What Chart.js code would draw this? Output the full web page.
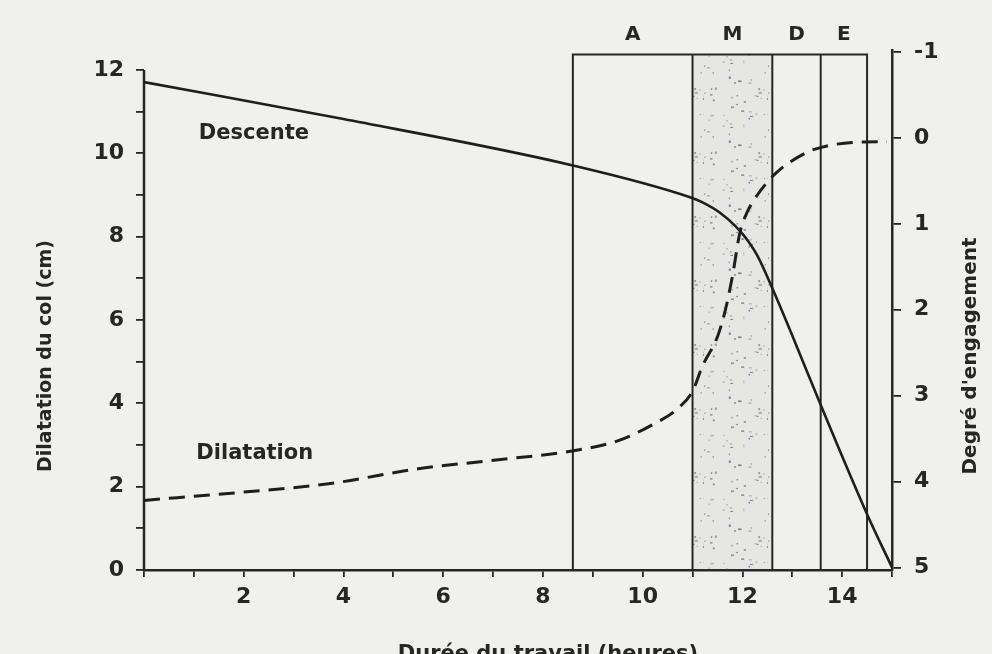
<!DOCTYPE html>
<html><head><meta charset="utf-8">
<script src="https://cdn.jsdelivr.net/npm/chart.js@4/dist/chart.umd.min.js"></script>
<style>html,body{margin:0;padding:0;background:#f0f0ee;}canvas{display:block;}</style>
</head><body>
<canvas id="c" width="992" height="654"></canvas>
<script>
// ---- data ----
const descenteHours   = [0, 4, 8.6, 10.95, 11.2, 11.55, 11.85, 12.05, 12.3, 12.6, 13.0, 13.6, 14.5, 15];
const descenteDegre   = [-0.65, -0.22, 0.32, 0.69, 0.75, 0.87, 1.02, 1.15, 1.37, 1.75, 2.3, 3.15, 4.38, 5.0];
const dilatationHours = [0, 2, 3.7, 5.5, 6.9, 8.7, 9.5, 10.2, 10.7, 11.0, 11.2, 11.5, 11.65, 11.8, 11.95, 12.1, 12.3, 12.65, 13.25, 13.6, 14.2, 14.9];
const dilatationCm    = [1.67, 1.87, 2.07, 2.43, 2.62, 2.88, 3.10, 3.49, 3.87, 4.29, 4.9, 5.6, 6.2, 7.05, 8.1, 8.6, 9.0, 9.5, 10.0, 10.15, 10.26, 10.28];
const phaseLabels  = ['A', 'M', 'D', 'E'];
const phaseBounds  = [8.6, 11.0, 12.6, 13.57, 14.5];
const shadedPhase  = 'M';
const phaseBoxTop  = 12.37;          // top of the phase box, in cm (left axis)
const xLabelled    = [2, 4, 6, 8, 10, 12, 14];
const yLabelled    = [0, 2, 4, 6, 8, 10, 12];
const y2Labelled   = [-1, 0, 1, 2, 3, 4, 5];

const FONT = "'DejaVu Sans', 'Liberation Sans', sans-serif";
const INK = '#262626';

function speckle(ctx) {
  const p = document.createElement('canvas'); p.width = 64; p.height = 64;
  const g = p.getContext('2d');
  g.fillStyle = 'rgba(110,110,110,0.08)'; g.fillRect(0, 0, 64, 64);
  let s = 11;
  const r = () => (s = (s * 16807) % 2147483647) / 2147483647;
  for (let i = 0; i < 45; i++) {
    const x = r() * 64, y = r() * 64, w = 1 + r() * 2.5, h = 1 + r() * 1.2;
    g.fillStyle = `rgba(${60 + (r() * 60 | 0)},${60 + (r() * 40 | 0)},${80 + (r() * 60 | 0)},${0.3 + r() * 0.4})`;
    g.fillRect(x, y, w, h);
  }
  return ctx.createPattern(p, 'repeat');
}

const paper = {
  id: 'paper',
  beforeDraw(chart) {
    const c = chart.ctx; c.save(); c.fillStyle = '#f0f0ee';
    c.fillRect(0, 0, chart.width, chart.height); c.restore();
  }
};

const phases = {
  id: 'phases',
  beforeDatasetsDraw(chart) {
    const { ctx, chartArea, scales: { x, y } } = chart;
    const top = y.getPixelForValue(phaseBoxTop), bottom = y.getPixelForValue(0);
    const xs = phaseBounds.map(v => x.getPixelForValue(v));
    ctx.save();
    const mi = phaseLabels.indexOf(shadedPhase);
    ctx.fillStyle = speckle(ctx);
    ctx.fillRect(xs[mi], top, xs[mi + 1] - xs[mi], bottom - top);
    ctx.strokeStyle = INK; ctx.lineWidth = 2;
    ctx.beginPath();
    ctx.moveTo(xs[0] - 1, top); ctx.lineTo(xs[xs.length - 1] + 1, top);
    xs.forEach(px => { ctx.moveTo(px, top); ctx.lineTo(px, bottom); });
    ctx.stroke();
    // left axis line (from 0 to 12 only)
    ctx.lineWidth = 2.5;
    ctx.beginPath();
    ctx.moveTo(chartArea.left, y.getPixelForValue(12));
    ctx.lineTo(chartArea.left, bottom + 1.25);
    ctx.stroke();
    ctx.fillStyle = INK; ctx.font = `bold 20px ${FONT}`;
    ctx.textAlign = 'center'; ctx.textBaseline = 'middle';
    phaseLabels.forEach((l, i) => ctx.fillText(l, (xs[i] + xs[i + 1]) / 2, chartArea.top - 15));
    ctx.restore();
  },
  afterDatasetsDraw(chart) {
    const { ctx, scales: { x, y } } = chart;
    ctx.save();
    ctx.fillStyle = INK; ctx.font = `bold 21px ${FONT}`;
    ctx.textAlign = 'left'; ctx.textBaseline = 'middle';
    ctx.fillText('Descente', x.getPixelForValue(1.1), y.getPixelForValue(10.48));
    ctx.fillText('Dilatation', x.getPixelForValue(1.05), y.getPixelForValue(2.8));
    // axis titles
    ctx.textAlign = 'center';
    ctx.font = `bold 19px ${FONT}`;
    ctx.save(); ctx.translate(46, 356); ctx.rotate(-Math.PI / 2);
    ctx.fillText('Dilatation du col (cm)', 0, 0); ctx.restore();
    ctx.font = `bold 20px ${FONT}`;
    ctx.save(); ctx.translate(971, 356); ctx.rotate(-Math.PI / 2);
    ctx.fillText("Degré d'engagement", 0, 0); ctx.restore();
    ctx.font = `bold 21px ${FONT}`; ctx.textBaseline = 'alphabetic';
    ctx.fillText('Durée du travail (heures)', 548, 660);
    ctx.restore();
  }
};

const intOnly = s => { s.ticks = s.ticks.filter(t => Number.isInteger(t.value)); };
const tickFont = { family: FONT, size: 22, weight: 'bold' };

new Chart(document.getElementById('c'), {
  type: 'line',
  data: {
    datasets: [
      {
        label: 'Descente',
        data: descenteHours.map((h, i) => ({ x: h, y: descenteDegre[i] })),
        yAxisID: 'y2',
        borderColor: '#1e1e1e', borderWidth: 2.6,
        pointRadius: 0, fill: false, cubicInterpolationMode: 'monotone'
      },
      {
        label: 'Dilatation',
        data: dilatationHours.map((h, i) => ({ x: h, y: dilatationCm[i] })),
        yAxisID: 'y',
        borderColor: '#1e1e1e', borderWidth: 3, borderDash: [16, 9],
        pointRadius: 0, fill: false, cubicInterpolationMode: 'monotone'
      }
    ]
  },
  options: {
    responsive: false, animation: false, devicePixelRatio: 1,
    layout: { padding: { top: 50, left: 0, right: 0, bottom: 0 } },
    plugins: { legend: { display: false }, tooltip: { enabled: false } },
    scales: {
      x: {
        type: 'linear', position: 'bottom', min: 0, max: 15,
        afterFit: s => { s.height = 84; },
        ticks: { stepSize: 1, autoSkip: false, maxRotation: 0, includeBounds: false,
                 padding: 7, color: INK, font: tickFont,
                 callback: v => xLabelled.includes(v) ? String(v) : '' },
        grid: { drawOnChartArea: false, drawTicks: true, tickLength: 7, color: INK, lineWidth: 1.8 },
        border: { display: true, color: INK, width: 2.5 }
      },
      y: {
        type: 'linear', position: 'left', min: 0, max: 12.48,
        afterFit: s => { s.width = 144; },
        afterBuildTicks: intOnly,
        ticks: { stepSize: 1, autoSkip: false, includeBounds: false, padding: 12, color: INK, font: tickFont,
                 callback: v => yLabelled.includes(v) ? String(v) : '' },
        grid: { drawOnChartArea: false, drawTicks: true, tickLength: 8, color: INK, lineWidth: 1.8 },
        border: { display: false }
      },
      y2: {
        type: 'linear', position: 'right', reverse: true, min: -1.024, max: 5.03,
        afterFit: s => { s.width = 100; },
        afterBuildTicks: intOnly,
        ticks: { stepSize: 1, autoSkip: false, includeBounds: false, padding: 13, color: INK, font: tickFont,
                 callback: v => y2Labelled.includes(v) ? String(v) : '' },
        grid: { drawOnChartArea: false, drawTicks: true, tickLength: 9, color: INK, lineWidth: 1.8 },
        border: { display: true, color: INK, width: 2.5 }
      }
    }
  },
  plugins: [paper, phases]
});
</script>
</body></html>
